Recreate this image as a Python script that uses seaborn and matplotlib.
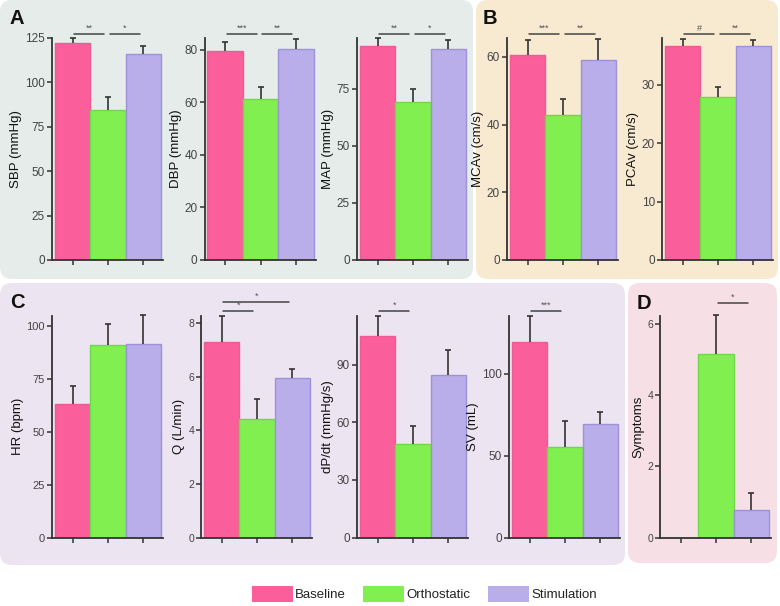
"""
plot.py
    Haemodynamic, cerebral flow and symptom bar panels (A-D)
    for baseline, orthostatic and stimulation conditions.
"""
import numpy as np
import matplotlib
matplotlib.use('Agg')
import matplotlib.pyplot as plt
from matplotlib.patches import FancyBboxPatch, Patch
import seaborn as sns

# Data (mean and upper error)
conditions = ['Baseline', 'Orthostatic', 'Stimulation']

sbp_mean = [122.0, 84.5, 116.0]
sbp_err = [3.2, 7.3, 4.3]
dbp_mean = [79.5, 61.2, 80.2]
dbp_err = [3.6, 4.7, 4.1]
map_mean = [93.9, 69.2, 92.4]
map_err = [3.3, 5.7, 4.1]
mcav_mean = [60.6, 42.9, 59.1]
mcav_err = [4.3, 4.6, 6.3]
pcav_mean = [36.7, 27.9, 36.7]
pcav_err = [1.2, 1.7, 1.0]
hr_mean = [63.3, 91.0, 91.8]
hr_err = [8.4, 10.1, 13.5]
q_mean = [7.30, 4.41, 5.94]
q_err = [0.97, 0.75, 0.34]
dpdt_mean = [105.2, 48.8, 84.8]
dpdt_err = [10.4, 9.5, 12.8]
sv_mean = [119.3, 55.3, 69.3]
sv_err = [15.9, 16.0, 7.6]
sym_mean = [0.0, 5.17, 0.77]
sym_err = [0.0, 1.09, 0.47]

# significance brackets: (from group, to group, label)
sbp_sig = [(0, 1, '**'), (1, 2, '*')]
dbp_sig = [(0, 1, '***'), (1, 2, '**')]
map_sig = [(0, 1, '**'), (1, 2, '*')]
mcav_sig = [(0, 1, '***'), (1, 2, '**')]
pcav_sig = [(0, 1, '#'), (1, 2, '**')]
hr_sig = []
q_sig = [(0, 1, '*'), (0, 2, '*')]
dpdt_sig = [(0, 1, '*')]
sv_sig = [(0, 1, '***')]
sym_sig = [(1, 2, '*')]

PALETTE = {'Baseline': '#fa5f9b', 'Orthostatic': '#82ef50', 'Stimulation': '#b9aeea'}
EDGES = ['#ee5a94', '#6fd84a', '#9d92d8']
FIG_W, FIG_H = 780, 606

sns.set_theme(style='white')
plt.rcParams['font.family'] = ['Liberation Sans', 'DejaVu Sans']

fig = plt.figure(figsize=(FIG_W / 100, FIG_H / 100), dpi=100)


def box(x0, y0, x1, y1, color):
    # rounded panel background, pixel coords from the top-left corner
    p = FancyBboxPatch((x0 / 100, (FIG_H - y1) / 100), (x1 - x0) / 100, (y1 - y0) / 100,
                       boxstyle='round,pad=0,rounding_size=0.12',
                       transform=fig.dpi_scale_trans, facecolor=color,
                       edgecolor='none', zorder=-10)
    fig.patches.append(p)


box(0, 0, 473, 279, '#e5ecea')
box(476, 0, 778, 279, '#f8e9d1')
box(0, 283, 625, 565, '#ede4f1')
box(628, 283, 777, 563, '#f6e0e5')

# panel layout: left px, bottom px, ylim top, ticks, label, tick font size, bracket offsets px
panels = [
    (sbp_mean, sbp_err, sbp_sig, 52, 260, 125.0, [0, 25, 50, 75, 100, 125], 'SBP (mmHg)', 8.5, [4, 4]),
    (dbp_mean, dbp_err, dbp_sig, 204.5, 260, 84.5, [0, 20, 40, 60, 80], 'DBP (mmHg)', 8.5, [4, 4]),
    (map_mean, map_err, map_sig, 357, 260, 97.3, [0, 25, 50, 75], 'MAP (mmHg)', 8.5, [4, 4]),
    (mcav_mean, mcav_err, mcav_sig, 507, 260, 65.6, [0, 20, 40, 60], 'MCAv (cm/s)', 8.5, [4, 4]),
    (pcav_mean, pcav_err, pcav_sig, 662, 260, 38.0, [0, 10, 20, 30], 'PCAv (cm/s)', 8.5, [4, 4]),
    (hr_mean, hr_err, hr_sig, 52, 537.5, 105.2, [0, 25, 50, 75, 100], 'HR (bpm)', 8, []),
    (q_mean, q_err, q_sig, 201, 537.5, 8.28, [0, 2, 4, 6, 8], 'Q (L/min)', 7.5, [5, 14]),
    (dpdt_mean, dpdt_err, dpdt_sig, 357, 537.5, 115.8, [0, 30, 60, 90], 'dP/dt (mmHg/s)', 8.5, [5]),
    (sv_mean, sv_err, sv_sig, 509, 537.5, 135.5, [0, 50, 100], 'SV (mL)', 8.5, [5]),
    (sym_mean, sym_err, sym_sig, 660, 537.5, 6.25, [0, 2, 4, 6], 'Symptoms', 7.5, [13]),
]

AX_W, AX_H = 111, 222
for mean, err, sig, left, bottom, ytop, ticks, label, tsize, offs in panels:
    ax = fig.add_axes([left / FIG_W, 1 - bottom / FIG_H, AX_W / FIG_W, AX_H / FIG_H])
    ax.set_facecolor('none')
    sns.barplot(x=conditions, y=mean, hue=conditions, palette=PALETTE, order=conditions,
                width=1.0, saturation=1, errorbar=None, legend=False, ax=ax)
    for bar, ec in zip(ax.patches, EDGES):
        bar.set_edgecolor(ec)
        bar.set_linewidth(1.0)
    xs = np.arange(3)
    mean_a = np.array(mean)
    err_a = np.array(err)
    keep = err_a > 0
    eb = ax.errorbar(xs[keep], mean_a[keep], yerr=[np.zeros(keep.sum()), err_a[keep]],
                     fmt='none', ecolor='#333333', elinewidth=1.2, capsize=2.5, capthick=1.2,
                     clip_on=False, zorder=3)
    eb[1][0].set_visible(False)  # only the upper cap
    ax.set_xlim(-0.58, 2.55)
    ax.set_ylim(0, ytop)
    ax.set_xticks(xs)
    ax.set_xticklabels([])
    ax.set_yticks(ticks)
    ax.set_xlabel('')
    ax.set_ylabel(label, fontsize=9.5, color='#111111', labelpad=2)
    for s in ['top', 'right']:
        ax.spines[s].set_visible(False)
    for s in ['left', 'bottom']:
        ax.spines[s].set_color('#333333')
        ax.spines[s].set_linewidth(1.3)
    ax.tick_params(axis='both', which='major', direction='out', length=3.5, width=1.1,
                   color='#333333', left=True, bottom=True, pad=1.5)
    ax.tick_params(axis='y', labelsize=tsize, labelcolor='#444444')

    # significance brackets above the axes
    for (i, j, txt), off in zip(sig, offs):
        yf = 1 + off / AX_H
        x0, x1 = i + 0.05, j - 0.1
        ax.plot([x0, x1], [yf, yf], transform=ax.get_xaxis_transform(), color='#444444',
                lw=1.1, clip_on=False)
        ax.text((x0 + x1) / 2, yf + 1 / AX_H, txt, transform=ax.get_xaxis_transform(),
                ha='center', va='bottom', fontsize=6.5, color='#555555')

# panel letters
for letter, x, y in [('A', 10, 9), ('B', 483, 9), ('C', 10, 293), ('D', 637, 294)]:
    fig.text(x / FIG_W, 1 - y / FIG_H, letter, fontsize=14.5, fontweight='bold',
             ha='left', va='top', color='#111111')

handles = [Patch(facecolor=PALETTE[c], edgecolor='none', label=c) for c in conditions]
fig.legend(handles=handles, loc='center', bbox_to_anchor=(0.544, 1 - 594 / FIG_H), ncol=3,
           frameon=False, fontsize=9.5, handlelength=3.1, handleheight=1.5,
           handletextpad=0.2, columnspacing=1.3, labelcolor='#222222')

fig.savefig('out.png', dpi=100)
